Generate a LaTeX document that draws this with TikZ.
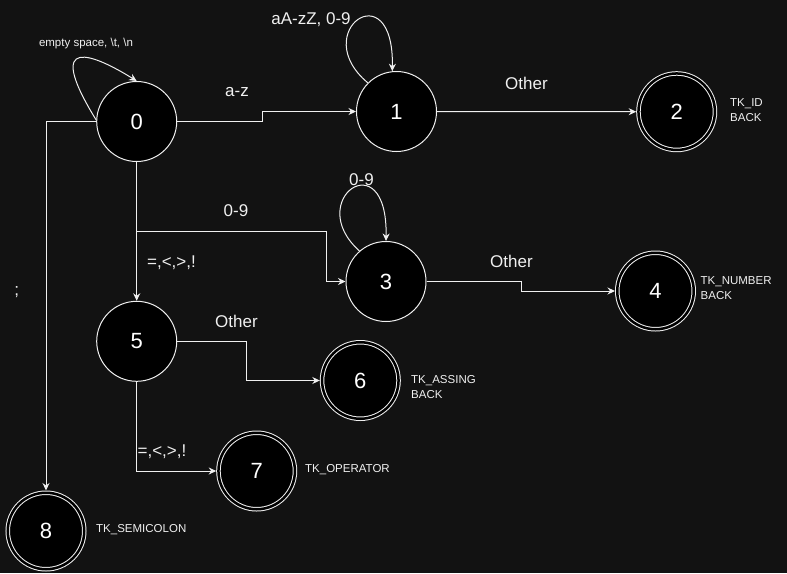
\documentclass[tikz,border=0pt]{standalone}
\usepackage{fontspec}
\setmainfont{Liberation Sans}
\usetikzlibrary{arrows.meta}
\definecolor{bg}{HTML}{121212}
\definecolor{fg}{HTML}{F0F0F0}
\begin{document}
\begin{tikzpicture}[x=1pt,y=-1pt,
  st/.style={circle, draw=fg, fill=black, line width=1pt, minimum size=80pt, inner sep=0pt, text=white, font=\fontsize{22}{26}\selectfont},
  acc/.style={st, double=black, double distance=2.5pt, minimum size=76.5pt, outer sep=2.25pt},
  edge/.style={draw=fg, line width=1pt, -{Stealth[length=7.5pt,width=7pt]}},
  lbl/.style={text=fg, font=\fontsize{17}{20}\selectfont, inner sep=0pt},
  small/.style={text=fg, font=\fontsize{11.5}{14}\selectfont, inner sep=0pt},
  tok/.style={text=fg, font=\fontsize{11.5}{15}\selectfont, align=left, anchor=west, inner sep=0pt},
]
\fill[bg] (0,0) rectangle (787,573);
\useasboundingbox (0,0) rectangle (787,573);

% states
\node[st]  (s0) at (136.7,121.5) {0};
\node[st]  (s1) at (396.5,111.5) {1};
\node[acc] (s2) at (676.7,111.7) {2};
\node[st]  (s3) at (386,281.5) {3};
\node[acc] (s4) at (655.5,291) {4};
\node[st]  (s5) at (136.7,341.3) {5};
\node[acc] (s6) at (360.3,380.5) {6};
\node[acc] (s7) at (256.7,471) {7};
\node[acc] (s8) at (46,531) {8};

% token labels
\node[tok] (t2) at (730,110.5) {TK\_ID\\BACK};
\node[tok] (t4) at (700.5,288) {TK\_NUMBER\\BACK};
\node[tok] (t6) at (411,387.5) {TK\_ASSING\\BACK};
\node[tok] (t7) at (305,470) {TK\_OPERATOR};
\node[tok] (t8) at (96,530) {TK\_SEMICOLON};

% transitions
\draw[edge] (s0.178) .. controls (42,32) and (95,55) .. (s0.north);
\draw[edge] (s0.east) -- ++(85.3,0) |- (s1.west);
\draw[edge] (s1.135) .. controls +(-61,-51) and +(2,-101) .. (s1.96);
\draw[edge] (s1.east) -- (s2.west);
\draw[edge] (s0.west) -| (s8.north);
\draw[edge] (s0.south) |- (326,231) |- (s3.west);
\draw[edge] (s0.south) -- (s5.north);
\draw[edge] (s3.131) .. controls +(-57,-51) and +(2,-101) .. (s3.north);
\draw[edge] (s3.east) -- ++(94.5,0) |- (s4.west);
\draw[edge] (s5.east) -- ++(69.3,0) |- (s6.west);
\draw[edge] (s5.south) |- (s7.west);

% edge labels
\node[small] (l00) at (86,44) {empty space, \textbackslash t, \textbackslash n};
\node[lbl] (l01) at (237,92) {a-z};
\node[lbl] (l11) at (311,20) {aA-zZ, 0-9};
\node[lbl] (l12) at (526.5,83.5) {Other};
\node[lbl] (l08) at (16.7,292) {;};
\node[lbl] (l03) at (236,211) {0-9};
\node[lbl] (l05) at (171.5,263) {=,<,>,!};
\node[lbl] (l33) at (361.5,180) {0-9};
\node[lbl] (l34) at (511.5,261) {Other};
\node[lbl] (l56) at (236.5,321) {Other};
\node[lbl] (l57) at (162,452) {=,<,>,!};
\end{tikzpicture}
\end{document}
